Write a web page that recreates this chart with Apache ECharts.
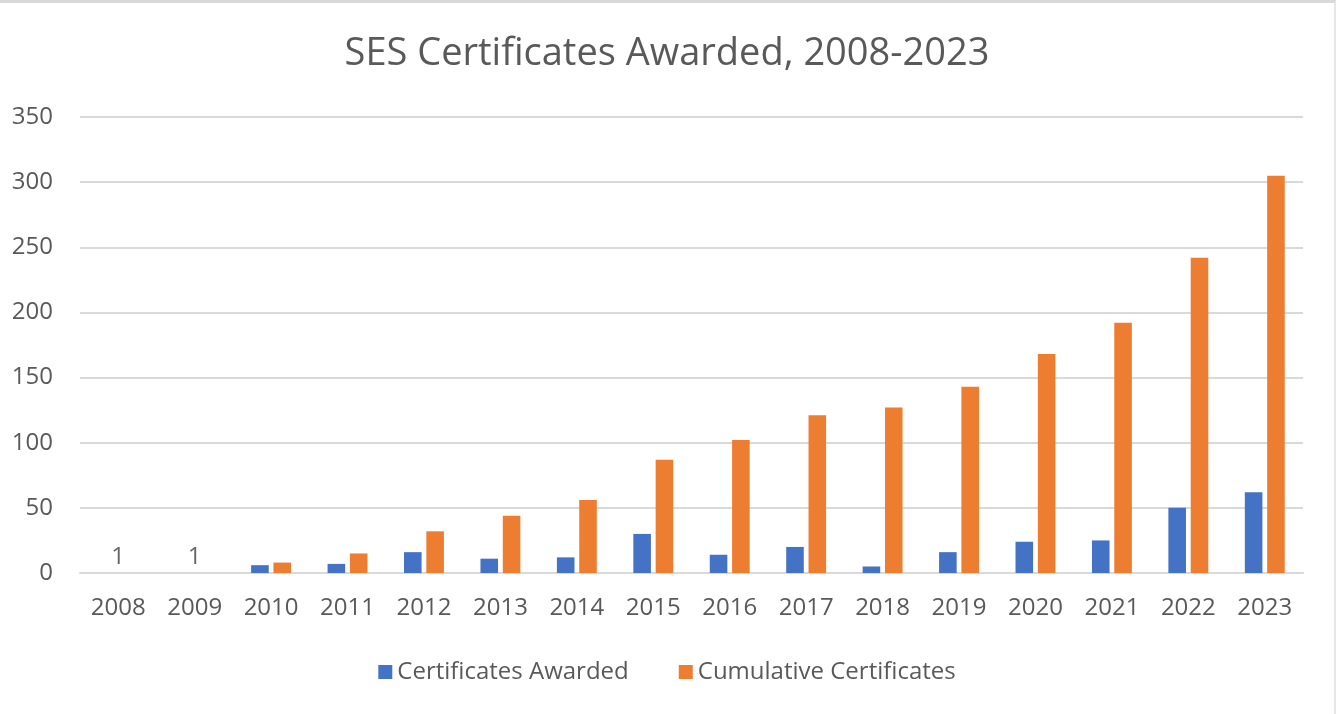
<!DOCTYPE html>
<html>
<head>
<meta charset="utf-8">
<script src="https://cdn.jsdelivr.net/npm/echarts@6/dist/echarts.min.js"></script>
<style>
  html, body { margin: 0; padding: 0; background: #fff; }
  #chart { width: 1336px; height: 714px; box-sizing: border-box; border-top: 3px solid #d9d9d9; border-right: 2px solid #e6e6e6; }
</style>
</head>
<body>
<div id="chart"></div>
<script>
// 年份
var years = ['2008', '2009', '2010', '2011', '2012', '2013', '2014', '2015',
  '2016', '2017', '2018', '2019', '2020', '2021', '2022', '2023'];
// 每年颁发数量
var awarded = [null, null, 6, 7, 16, 11, 12, 30, 14, 20, 5, 16, 24, 25, 50, 62];
// 累计数量
var cumulative = [null, null, 8, 15, 32, 44, 56, 87, 102, 121, 127, 143, 168, 192, 242, 305];
// 2008、2009 只有文字标注
var notes = [1, 1, null, null, null, null, null, null, null, null, null, null, null, null, null, null];

var yTicks = [0, 50, 100, 150, 200, 250, 300, 350];

var textColor = '#595959';
var font = 'Open Sans';

var myChart = echarts.init(document.getElementById('chart'));

var option = {
  animation: false,
  title: {
    text: 'SES Certificates Awarded, 2008-2023',
    left: 'center',
    top: 27,
    textStyle: { fontFamily: font, fontSize: 38, fontWeight: 'normal', color: textColor }
  },
  legend: {
    data: ['Certificates Awarded', 'Cumulative Certificates'],
    bottom: 25,
    left: 'center',
    itemWidth: 14,
    itemHeight: 14,
    itemGap: 50,
    icon: 'rect',
    textStyle: { fontFamily: font, fontSize: 24, color: textColor }
  },
  grid: {
    left: 80,
    right: 31,
    top: 114,
    bottom: 141,
    containLabel: false
  },
  xAxis: {
    type: 'category',
    data: years,
    axisLine: { lineStyle: { color: '#d9d9d9', width: 2 } },
    axisTick: { show: false },
    axisLabel: { margin: 23, fontFamily: font, fontSize: 24, color: textColor }
  },
  yAxis: {
    type: 'value',
    min: yTicks[0],
    max: yTicks[yTicks.length - 1],
    interval: 50,
    axisLine: { show: false },
    axisTick: { show: false },
    splitLine: { lineStyle: { color: '#d9d9d9', width: 2 } },
    axisLabel: { margin: 27, fontFamily: font, fontSize: 24, color: textColor }
  },
  series: [
    {
      name: 'Certificates Awarded',
      type: 'bar',
      data: awarded,
      barWidth: '23%',
      barGap: '27%',
      itemStyle: { color: '#4472C4' }
    },
    {
      name: 'Cumulative Certificates',
      type: 'bar',
      data: cumulative,
      barWidth: '23%',
      itemStyle: { color: '#ED7D31' }
    },
    {
      name: 'notes',
      type: 'scatter',
      data: notes,
      symbolSize: 0,
      silent: true,
      label: {
        show: true,
        position: 'top',
        distance: 3,
        fontFamily: font,
        fontSize: 24,
        color: '#404040'
      }
    }
  ]
};

myChart.setOption(option, true);
</script>
</body>
</html>
